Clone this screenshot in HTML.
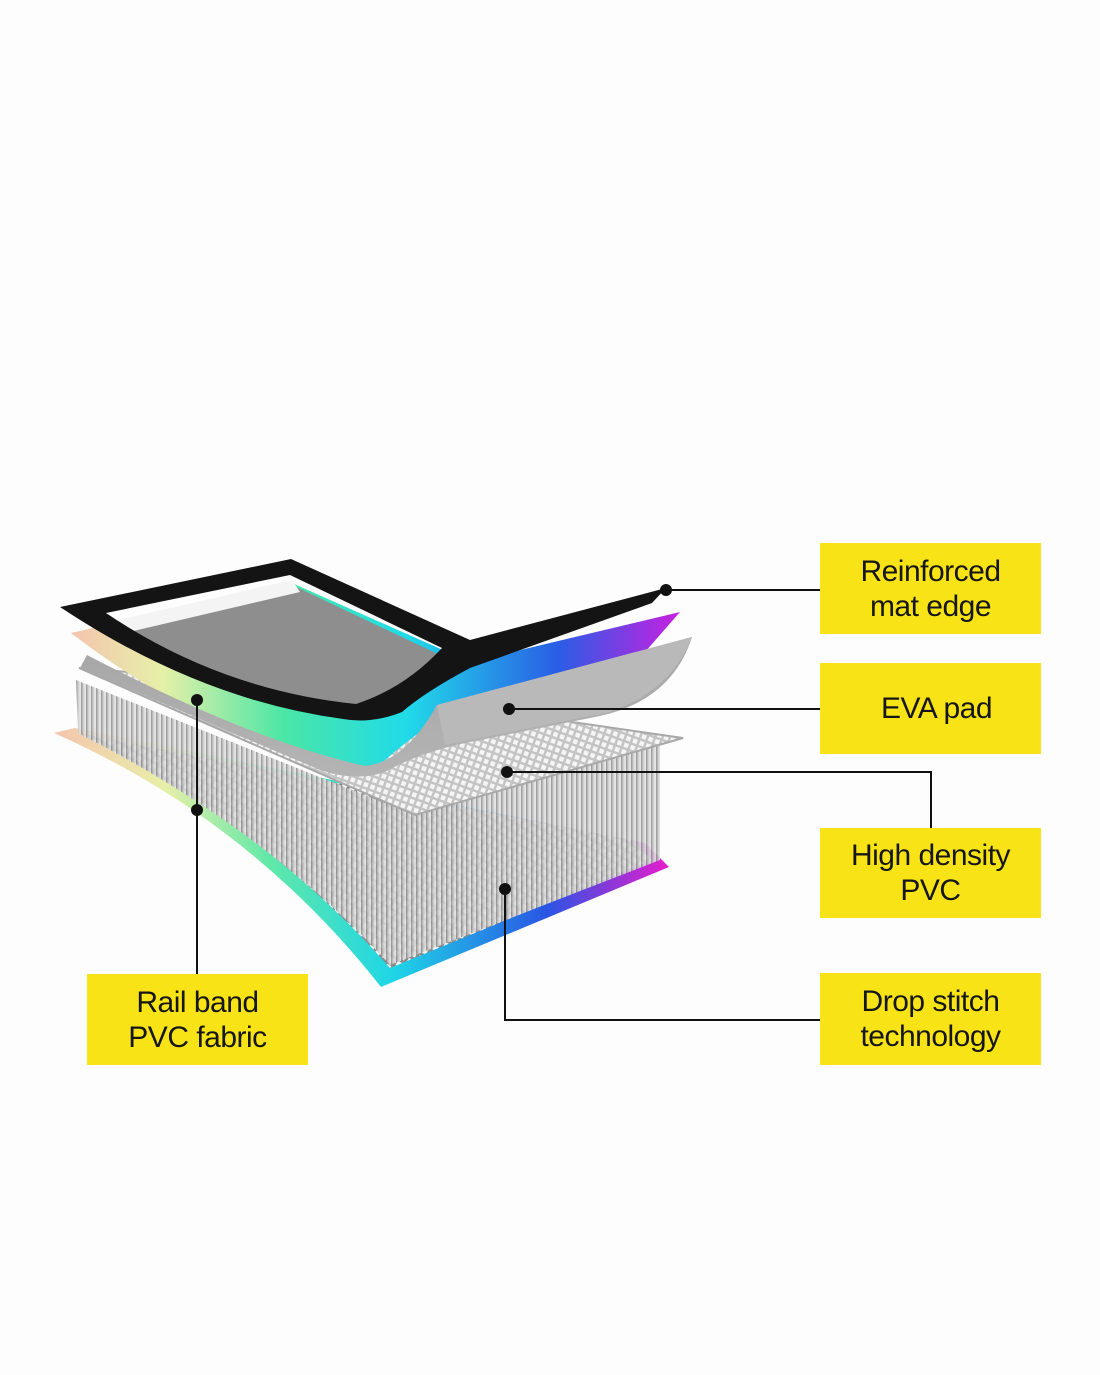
<!DOCTYPE html>
<html><head><meta charset="utf-8"><style>
html,body{margin:0;padding:0;background:#fdfdfd;}
body{width:1100px;height:1375px;position:relative;overflow:hidden;font-family:"Liberation Sans","DejaVu Sans",sans-serif;}
.b{position:absolute;background:#f8e416;color:#161616;font-size:30px;line-height:35px;text-align:center;display:flex;align-items:center;justify-content:center;letter-spacing:-0.5px;}
svg{position:absolute;left:0;top:0;}
</style></head><body>
<svg width="1100" height="1375" viewBox="0 0 1100 1375">
<defs>
<linearGradient id="rb" x1="54" y1="0" x2="670" y2="0" gradientUnits="userSpaceOnUse">
<stop offset="0" stop-color="#f4c4ae"/><stop offset="0.18" stop-color="#e8efa8"/><stop offset="0.35" stop-color="#60e8a8"/><stop offset="0.55" stop-color="#1fd6e6"/><stop offset="0.8" stop-color="#2a55e4"/><stop offset="1" stop-color="#e81ccc"/></linearGradient>
<linearGradient id="rt" x1="71" y1="0" x2="680" y2="0" gradientUnits="userSpaceOnUse">
<stop offset="0" stop-color="#f4c4ae"/><stop offset="0.15" stop-color="#e6f0a8"/><stop offset="0.35" stop-color="#4ae6a6"/><stop offset="0.55" stop-color="#20dbe8"/><stop offset="0.8" stop-color="#2a5de6"/><stop offset="1" stop-color="#c820e0"/></linearGradient>
<pattern id="mesh" width="8" height="8" patternUnits="userSpaceOnUse" patternTransform="rotate(30)">
<rect width="8" height="8" fill="#8a8a8a"/><rect x="1" y="1" width="5" height="5" fill="#f2f2f2"/></pattern>
<pattern id="mesh2" width="7" height="7" patternUnits="userSpaceOnUse" patternTransform="rotate(20)">
<rect width="7" height="7" fill="#c4c4c4"/><rect x="1" y="1" width="4.5" height="4.5" fill="#f5f5f5"/></pattern>
<pattern id="ndl" width="5" height="200" patternUnits="userSpaceOnUse">
<rect width="5" height="200" fill="#e2e2e2"/><rect x="1" width="1.6" height="200" fill="#959595"/><rect x="3.4" width="0.8" height="200" fill="#bdbdbd"/></pattern>
<linearGradient id="eva" x1="0" y1="640" x2="0" y2="780" gradientUnits="userSpaceOnUse"><stop offset="0" stop-color="#a6a6a6"/><stop offset="1" stop-color="#b4b4b4"/></linearGradient>
</defs>
<!-- base rainbow -->
<path d="M54,733 Q250,820 381,987 L669,867 L645,843 L75,728 Z" fill="url(#rb)"/>
<path d="M78,733 Q268,828 390,968 L652,860 L632,840 Z" fill="url(#mesh)"/>
<!-- needles -->
<path d="M76,680 L415,815 L660,745 L660,860 L390,965 Q268,830 78,733 Z" fill="url(#ndl)" opacity="0.9"/>
<!-- mesh sheet -->
<path d="M79,668 L350,690 L683,738 L415,815 Z" fill="url(#mesh2)" stroke="#a8a8a8" stroke-width="2"/>
<!-- top rainbow frame -->
<path d="M71,633 L292,583 L470,662 L680,612 L645,652 L472,703 Q425,722 372,772 Q210,740 71,633 Z" fill="url(#rt)"/>
<!-- gray interior -->
<path d="M110,622 L292,585 L440,655 Q400,695 356,708 Q220,690 110,622 Z" fill="#8e8e8e"/>
<path d="M110,622 L292,580 L300,592 L125,633 Z" fill="#f4f4f4"/>
<!-- EVA pad -->
<path d="M87,655 Q250,740 365,766 Q405,762 437,705 L692,637 Q672,700 600,716 L470,742 Q420,752 385,772 Q355,782 320,770 L80,668 Z" fill="url(#eva)"/>
<path d="M437,705 L692,637 Q672,690 610,712 L445,745 Z" fill="#b9b9b9"/>
<!-- black frame -->
<path fill-rule="evenodd" fill="#141414" d="M60,607 L291,559 L470,640 L666,588 L652,603 L470,668 Q425,692 402,712 Q372,724 343,719 Q200,700 60,607 Z M106,613 L290,575 L442,648 Q405,688 356,704 Q220,690 106,613 Z"/>
<!-- connectors -->
<g stroke="#111" stroke-width="2" fill="none">
<path d="M666,590 H820"/><path d="M509,709 H820"/><path d="M507,772 H931 V828"/><path d="M505,889 V1020 H820"/><path d="M197,700 V974"/>
</g>
<g fill="#111"><circle cx="666" cy="590" r="6"/><circle cx="509" cy="709" r="6"/><circle cx="507" cy="772" r="6"/><circle cx="505" cy="889" r="6"/><circle cx="197" cy="700" r="6"/><circle cx="197" cy="810" r="6"/></g>
</svg>
<div class="b" style="left:820px;top:543px;width:221px;height:91px;">Reinforced<br>mat edge</div>
<div class="b" style="left:820px;top:663px;width:221px;height:91px;padding-left:12px;box-sizing:border-box;">EVA pad</div>
<div class="b" style="left:820px;top:828px;width:221px;height:90px;">High density<br>PVC</div>
<div class="b" style="left:820px;top:973px;width:221px;height:92px;">Drop stitch<br>technology</div>
<div class="b" style="left:87px;top:974px;width:221px;height:91px;">Rail band<br>PVC fabric</div>
</body></html>
